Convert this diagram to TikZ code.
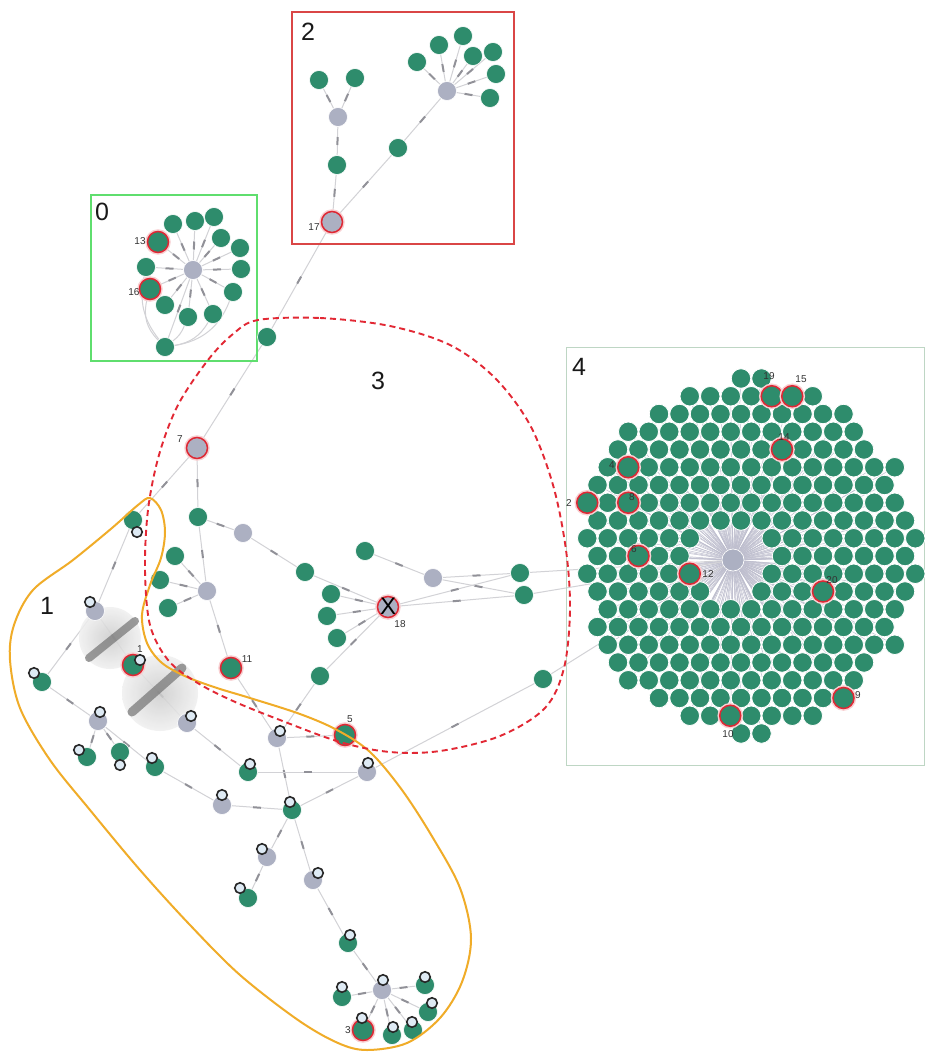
\documentclass[tikz,border=0pt]{standalone}
\usepackage{fontspec}
\setmainfont{Liberation Sans}
\pgfdeclarelayer{bgw}
\pgfdeclarelayer{bg}
\pgfdeclarelayer{fg}
\pgfsetlayers{bgw,bg,main,fg}
\definecolor{gnode}{RGB}{46,140,108}
\definecolor{ynode}{RGB}{172,176,194}
\definecolor{ering}{RGB}{222,40,52}
\definecolor{edgec}{RGB}{210,210,214}
\definecolor{markc}{RGB}{145,145,152}
\definecolor{spokec}{RGB}{190,190,206}
\definecolor{boxz}{RGB}{95,222,110}
\definecolor{boxt}{RGB}{218,70,70}
\definecolor{boxf}{RGB}{190,214,196}
\definecolor{orng}{RGB}{240,172,40}
\definecolor{dashr}{RGB}{226,40,52}
\definecolor{mkfill}{RGB}{222,234,244}
\tikzset{
  gn/.style={circle, fill=gnode, draw=white, line width=0.6pt, minimum size=19pt, inner sep=0pt},
  yn/.style={circle, fill=ynode, draw=white, line width=0.6pt, minimum size=19pt, inner sep=0pt},
  gr/.style={circle, fill=gnode, draw=ering, line width=1.5pt, minimum size=21pt, inner sep=0pt, preaction={draw=ering!22, line width=4.5pt}},
  yr/.style={circle, fill=ynode, draw=ering, line width=1.5pt, minimum size=21pt, inner sep=0pt, preaction={draw=ering!22, line width=4.5pt}},
  edg/.style={draw=edgec, line width=1pt},
  spoke/.style={draw=spokec, line width=0.5pt},
  mk/.style={sloped, rectangle, fill=markc, minimum width=8pt, minimum height=2pt, inner sep=0pt},
  hd/.style={circle, draw=black!85, fill=mkfill, line width=1.6pt, minimum size=10.5pt, inner sep=0pt},
  num/.style={font=\fontsize{10}{10}\selectfont, text=black!80, inner sep=0pt},
  big/.style={font=\fontsize{25}{25}\selectfont, text=black!90, inner sep=0pt},
}
\begin{document}
\begin{tikzpicture}[x=1pt,y=-1pt]
\begin{pgfonlayer}{bgw}
\fill[white] (0,0) rectangle (925,1055);
\end{pgfonlayer}
\useasboundingbox (0,0) rectangle (925,1055);

% ---------------- box 2 ----------------
\draw[boxt, line width=1.4pt] (292,12) rectangle (514,244);
\node[big] (L2) at (308,32) {2};
\node[gn] (a1) at (319,80) {};
\node[gn] (a2) at (355,78) {};
\node[yn] (a3) at (338,117) {};
\node[gn] (a4) at (337,165) {};
\node[yr] (n17) at (332,222) {};
\node[num] (t17) at (314,227) {17};
\node[gn] (a5) at (398,148) {};
\node[yn] (h2) at (447,91) {};
\node[gn] (b1) at (417,62) {};
\node[gn] (b2) at (439,45) {};
\node[gn] (b3) at (463,36) {};
\node[gn] (b4) at (473,56) {};
\node[gn] (b5) at (493,52) {};
\node[gn] (b6) at (496,74) {};
\node[gn] (b7) at (490,98) {};

% ---------------- box 0 ----------------
\draw[boxz, line width=1.8pt] (91,195) rectangle (257,361);
\node[big] (L0) at (102,212) {0};
\node[yn] (h0) at (193,270) {};
\node[gn] (z1) at (173,224) {};
\node[gn] (z2) at (195,221) {};
\node[gn] (z3) at (214,217) {};
\node[gn] (z4) at (221,238) {};
\node[gn] (z5) at (240,248) {};
\node[gn] (z6) at (241,269) {};
\node[gn] (z7) at (233,292) {};
\node[gn] (z8) at (213,314) {};
\node[gn] (z9) at (188,317) {};
\node[gn] (z10) at (165,305) {};
\node[gn] (z11) at (146,267) {};
\node[gr] (n13) at (158,242) {};
\node[num] (t13) at (140,241) {13};
\node[gr] (n16) at (150,289) {};
\node[num] (t16) at (134,292) {16};
\node[gn] (z12) at (165,347) {};
\node[gn] (g267) at (267,337) {};

% ---------------- region 3 ----------------
\node[yr] (n7) at (197,448) {};
\node[num] (t7) at (180,439) {7};
\node[gn] (g198) at (198,517) {};
\node[yn] (y243) at (243,533) {};
\node[gn] (g305) at (305,572) {};
\node[gn] (g365) at (365,551) {};
\node[yn] (y433) at (433,578) {};
\node[gn] (g175) at (175,556) {};
\node[gn] (g160) at (160,580) {};
\node[gn] (g168) at (168,608) {};
\node[yn] (y207) at (207,591) {};
\node[gn] (g331) at (331,594) {};
\node[gn] (g327) at (327,616) {};
\node[gn] (g337) at (337,638) {};
\node[yr] (n18) at (388,607) {};
\node[font=\fontsize{24}{24}\selectfont, inner sep=0pt] (x18) at (388,606) {X};
\node[num] (t18) at (400,624) {18};
\node[gr] (n11) at (231,668) {};
\node[num] (t11) at (247,659) {11};
\node[gn] (g520) at (520,573) {};
\node[gn] (g524) at (524,595) {};
\node[gn] (g320) at (320,676) {};
\node[gn] (g543) at (543,679) {};
\node[gr] (n5) at (345,735) {};
\node[num] (t5) at (350,719) {5};
\node[big] (L3) at (378,381) {3};

% ---------------- region 1 ----------------
\node[gn] (g133) at (133,520) {};
\node[yn] (y97) at (95,611) {};
\node[gr] (n1) at (133,665) {};
\node[num] (t1) at (140,649) {1};
\node[yn] (y187) at (187,723) {};
\node[gn] (g42) at (42,682) {};
\node[yn] (y98) at (98,721) {};
\node[gn] (g87) at (87,757) {};
\node[gn] (g120) at (120,752) {};
\node[gn] (g155) at (155,767) {};
\node[gn] (gA) at (248,772) {};
\node[yn] (y277) at (277,738) {};
\node[yn] (y368) at (367,772) {};
\node[yn] (y222) at (222,805) {};
\node[gn] (g292) at (292,810) {};
\node[yn] (y267) at (267,857) {};
\node[yn] (y313) at (313,880) {};
\node[gn] (gB) at (248,898) {};
\node[gn] (g348) at (348,943) {};
\node[yn] (y382) at (382,990) {};
\node[gn] (k1) at (342,997) {};
\node[gn] (k2) at (425,985) {};
\node[gn] (k3) at (428,1012) {};
\node[gn] (k4) at (413,1030) {};
\node[gn] (k5) at (392,1035) {};
\node[gr] (n3) at (363,1030) {};
\node[num] (t3) at (348,1030) {3};
\node[big] (L1) at (47,606) {1};

% ---------------- box 4 ----------------
\draw[boxf, line width=1pt] (566,347) rectangle (924,765);
\node[big] (L4) at (579,367) {4};
\node[yn, minimum size=22pt] (hub4) at (733,560) {};
\foreach \j in {0,...,20}{
  \foreach \i in {0,...,18}{
    \pgfmathsetmacro{\xx}{741+(\i-9)*20.5+mod(\j,2)*10.25}
    \pgfmathsetmacro{\yy}{556+(\j-10)*17.75}
    \pgfmathsetmacro{\ea}{(\xx-749)/168}
    \pgfmathsetmacro{\eb}{(\yy-556)/180}
    \pgfmathsetmacro{\ec}{(\xx-733)/38}
    \pgfmathsetmacro{\ed}{(\yy-560)/38}
    \pgfmathtruncatemacro{\ok}{and(\ea*\ea+\eb*\eb<=1, \ec*\ec+\ed*\ed>=1)}
    \ifnum\ok=1
      \node[gn, minimum size=19.5pt, line width=0.8pt] (c\i x\j) at (\xx,\yy) {};
      \begin{pgfonlayer}{bg}\draw[spoke] (hub4) -- (c\i x\j);\end{pgfonlayer}
    \fi
  }
}
\node[gr] (r19) at (771.75,396.25) {};
\node[gr] (r15) at (792.25,396.25) {};
\node[gr] (r14) at (782,449.5) {};
\node[gr] (r4) at (628.25,467.25) {};
\node[gr] (r2) at (587.25,502.75) {};
\node[gr] (r8) at (628.25,502.75) {};
\node[gr] (r6) at (638.5,556) {};
\node[gr] (r12) at (689.75,573.75) {};
\node[gr] (r20) at (823,591.5) {};
\node[gr] (r9) at (843.5,698) {};
\node[gr] (r10) at (730.25,715.75) {};
\begin{pgfonlayer}{fg}
\node[num] (t19) at (769,376) {19};
\node[num] (t15) at (801,379) {15};
\node[num] (t14) at (784,437) {14};
\node[num] (t4) at (612,465) {4};
\node[num] (t2) at (569,503) {2};
\node[num] (t8) at (632,497) {8};
\node[num] (t6) at (634,549) {6};
\node[num] (t12) at (708,574) {12};
\node[num] (t20) at (832,580) {20};
\node[num] (t9) at (858,695) {9};
\node[num] (t10) at (728,734) {10};
\end{pgfonlayer}

% ---------------- edges (background) ----------------
\begin{pgfonlayer}{bg}
\foreach \a/\b in {n17/a4, a4/a3, a3/a1, a3/a2, n17/a5, a5/h2, h2/b1, h2/b2, h2/b3, h2/b4, h2/b5, h2/b6, h2/b7,
  h0/z1, h0/z2, h0/z3, h0/z4, h0/z5, h0/z6, h0/z7, h0/z8, h0/z9, h0/z10, h0/z11, h0/n13, h0/n16, h0/z12,
  n7/g267, g267/n17, n7/g198, n7/g133, g198/y243, y243/g305, g305/n18, g198/y207, y207/g175, y207/g160,
  y207/g168, y207/n11, g365/y433, y433/g520, y433/g524, n18/g520, n18/g524, n18/g331, n18/g327, n18/g337,
  n18/g320, g320/y277, n11/y277, y277/n5, g543/y368,
  g133/y97, y97/g42, g42/y98, y98/g87, y98/g120, y98/g155, g155/y222, n1/y97, n1/y187, y187/gA,
  y277/g292, y368/g292, gA/y368, y222/g292, g292/y267, g292/y313, y267/gB, y313/g348, g348/y382,
  y382/k1, y382/k2, y382/k3, y382/k4, y382/k5, y382/n3}
  \draw[edg] (\a) -- node[mk]{} (\b);
\draw[edg] (z12) to[bend left=30] (n16);
\draw[edg] (z12) to[bend left=25] (z11);
\draw[edg] (z12) to[bend right=25] (z8);
\draw[edg] (z12) to[bend right=30] (z7);
\draw[edg] (z12) to[bend right=15] (z9);
\draw[edg] (g520) -- (hub4);
\draw[edg] (g524) -- (hub4);
\draw[edg] (g543) -- (hub4);
% translucent discs with edge bundles
\shade[inner color=black!20, outer color=black!6, opacity=0.85] (110,638) circle (31);
\draw[black!55, line width=8pt, opacity=0.7, line cap=round] (89,658) -- (135,621);
\shade[inner color=black!20, outer color=black!6, opacity=0.85] (160,693) circle (38);
\draw[black!55, line width=9pt, opacity=0.7, line cap=round] (132,712) -- (182,668);
\end{pgfonlayer}

% ---------------- markers ----------------
\node[hd] (m1) at (137,532) {};
\node[hd] (m2) at (90,602) {};
\node[hd] (m3) at (140,660) {};
\node[hd] (m4) at (191,716) {};
\node[hd] (m5) at (34,673) {};
\node[hd] (m6) at (100,712) {};
\node[hd] (m7) at (79,750) {};
\node[hd] (m8) at (120,765) {};
\node[hd] (m9) at (152,758) {};
\node[hd] (m10) at (250,764) {};
\node[hd] (m11) at (280,731) {};
\node[hd] (m12) at (368,763) {};
\node[hd] (m13) at (222,795) {};
\node[hd] (m14) at (290,802) {};
\node[hd] (m15) at (262,849) {};
\node[hd] (m16) at (318,873) {};
\node[hd] (m17) at (240,888) {};
\node[hd] (m18) at (350,935) {};
\node[hd] (m19) at (383,980) {};
\node[hd] (m20) at (342,987) {};
\node[hd] (m21) at (425,977) {};
\node[hd] (m22) at (432,1003) {};
\node[hd] (m23) at (412,1022) {};
\node[hd] (m24) at (393,1027) {};
\node[hd] (m25) at (362,1018) {};

% ---------------- outlines ----------------
\draw[orng, line width=2pt] plot[smooth cycle, tension=0.55] coordinates {
 (150,498) (161,510) (165,532) (161,558) (150,585) (142,615) (147,643) (162,663) (187,677)
 (217,688) (250,698) (300,714) (337,730) (370,752) (402,790) (433,838) (460,888) (471,938)
 (462,982) (440,1018) (407,1043) (367,1050) (338,1043) (298,1020) (240,975) (190,925)
 (140,870) (90,810) (50,760) (20,708) (10,660) (14,625) (33,590) (73,560) (112,528) (138,505)};
\draw[dashr, line width=1.9pt, dash pattern=on 6pt off 4pt] plot[smooth cycle, tension=0.55] coordinates {
 (258,320) (320,318) (390,326) (450,345) (495,378) (530,425) (553,485) (566,550) (570,610)
 (564,668) (545,708) (500,736) (440,751) (390,752) (340,742) (280,720) (233,701) (196,682)
 (168,660) (150,625) (145,570) (148,510) (159,455) (178,405) (208,360) (233,334)};
\end{tikzpicture}
\end{document}
